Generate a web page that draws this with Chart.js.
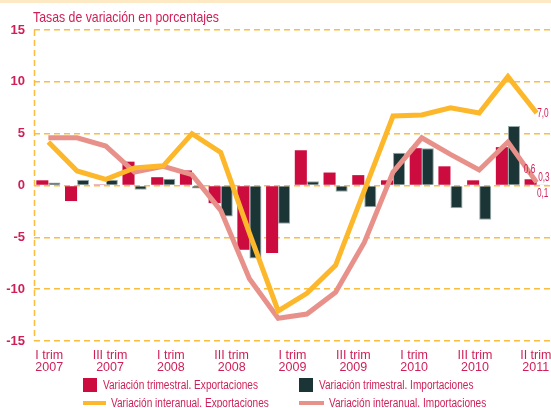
<!DOCTYPE html>
<html lang="es">
<head>
<meta charset="utf-8">
<title>Tasas de variación en porcentajes</title>
<script src="https://cdn.jsdelivr.net/npm/chart.js@4.4.1/dist/chart.umd.min.js"></script>
<style>
  html, body { margin: 0; padding: 0; background: #fff; }
  #wrap { position: relative; width: 551px; height: 408px; overflow: hidden; }
  #topband { position: absolute; left: 0; top: 0; width: 551px; height: 3px; background: #fde9c3; }
  #title {
    position: absolute; left: 33px; top: 8px; line-height: 17px;
    font: 15px 'Liberation Sans Narrow', 'Liberation Sans', sans-serif;
    color: #cf1f57; white-space: nowrap;
    transform: scaleX(0.82); transform-origin: left center;
  }
  #legend {
    position: absolute; left: 83px; top: 377px;
    display: grid; grid-template-columns: 216px auto; row-gap: 2px;
    font: 12px 'Liberation Sans Narrow', 'Liberation Sans', sans-serif;
    color: #cf1f57;
  }
  .item { display: flex; align-items: center; height: 16px; white-space: nowrap; }
  .item span.txt { display: inline-block; transform: scaleX(0.84); transform-origin: left center; }
  .box { width: 14px; height: 14px; margin-right: 6px; }
  .line { width: 25px; height: 4px; margin-right: 5px; }
</style>
</head>
<body>
<div id="wrap">
  <div id="topband"></div>
  <canvas id="chart" width="551" height="408"></canvas>
  <div id="title">Tasas de variación en porcentajes</div>
  <div id="legend"></div>
</div>
<script>
// quarters shown on the chart (one bar group / line point each)
const quarters = [
  'I trim 2007', 'II trim 2007', 'III trim 2007', 'IV trim 2007',
  'I trim 2008', 'II trim 2008', 'III trim 2008', 'IV trim 2008',
  'I trim 2009', 'II trim 2009', 'III trim 2009', 'IV trim 2009',
  'I trim 2010', 'II trim 2010', 'III trim 2010', 'IV trim 2010',
  'I trim 2011', 'II trim 2011'
];
// labels printed under the axis
const axisLabels = [
  'I trim 2007', 'III trim 2007', 'I trim 2008', 'III trim 2008', 'I trim 2009',
  'III trim 2009', 'I trim 2010', 'III trim 2010', 'II trim 2011'
];
const yTicks = [-15, -10, -5, 0, 5, 10, 15];

const trimExport = [0.5, -1.5, 0.1, 2.3, 0.8, 1.45, -1.7, -6.2, -6.5, 3.4, 1.25, 1.0, 0.5, 3.6, 1.85, 0.5, 3.7, 0.6];
const trimImport = [0.3, 0.55, 0.55, -0.4, 0.65, -0.3, -3.0, -7.05, -3.7, 0.4, -0.6, -2.1, 3.15, 3.6, -2.2, -3.3, 5.75, 0.1];
const anualExport = [4.2, 1.4, 0.6, 1.7, 1.9, 5.0, 3.2, -4.6, -12.1, -10.4, -7.7, -0.5, 6.7, 6.8, 7.5, 7.0, 10.5, 7.0];
const anualImport = [4.6, 4.6, 3.8, 1.3, 1.85, 1.05, -2.4, -9.0, -12.8, -12.4, -10.3, -5.5, 1.3, 4.6, 3.0, 1.5, 4.2, 0.3];

const RED = '#cc0c3f';
const DARK = '#1b3435';
const YELLOW = '#fdb72b';
const PINK = '#e8918a';
const TEXT = '#cf1f57';
const GRID = '#fbbd3f';
const NARROW = "'Liberation Sans Narrow', 'Liberation Sans', sans-serif";

// value labels at the end of each series (offsets in px from the mark)
const endLabels = [
  { ds: 0, dx: -1, dy: -10, align: 'center' }, // 0,6
  { ds: 1, dx: 0, dy: 9, align: 'center' },    // 0,1
  { ds: 2, dx: 0.5, dy: 1, align: 'left' },    // 7,0
  { ds: 3, dx: 1.5, dy: -4.5, align: 'left' }  // 0,3
];

const extras = {
  id: 'extras',
  beforeDatasetsDraw(chart) {
    const { ctx, chartArea } = chart;
    ctx.save();
    ctx.strokeStyle = GRID;
    ctx.lineWidth = 1.5;
    ctx.setLineDash([6, 4]);
    ctx.beginPath();
    ctx.moveTo(chartArea.left + 0.5, chartArea.top);
    ctx.lineTo(chartArea.left + 0.5, chartArea.bottom);
    ctx.stroke();
    ctx.restore();
  },
  afterDatasetsDraw(chart) {
    const { ctx } = chart;
    endLabels.forEach(l => {
      const data = chart.data.datasets[l.ds].data;
      const i = data.length - 1;
      const el = chart.getDatasetMeta(l.ds).data[i];
      ctx.save();
      ctx.fillStyle = TEXT;
      ctx.font = '12.5px ' + NARROW;
      ctx.textBaseline = 'middle';
      ctx.textAlign = l.align;
      ctx.translate(el.x + l.dx, el.y + l.dy);
      ctx.scale(0.66, 1);
      ctx.fillText(data[i].toFixed(1).replace('.', ','), 0, 0);
      ctx.restore();
    });
  }
};

const chart = new Chart(document.getElementById('chart'), {
  type: 'bar',
  data: {
    labels: quarters,
    datasets: [
      {
        label: 'Variación trimestral. Exportaciones',
        data: trimExport,
        backgroundColor: RED,
        borderWidth: 0,
        categoryPercentage: 0.84,
        barPercentage: 1.0,
        order: 2
      },
      {
        label: 'Variación trimestral. Importaciones',
        data: trimImport,
        backgroundColor: DARK,
        borderColor: '#96a9a9',
        borderWidth: 1,
        categoryPercentage: 0.84,
        barPercentage: 1.0,
        order: 2
      },
      {
        type: 'line',
        label: 'Variación interanual. Exportaciones',
        data: anualExport,
        borderColor: YELLOW,
        backgroundColor: YELLOW,
        borderWidth: 5,
        pointRadius: 0,
        tension: 0,
        order: 0
      },
      {
        type: 'line',
        label: 'Variación interanual. Importaciones',
        data: anualImport,
        borderColor: PINK,
        backgroundColor: PINK,
        borderWidth: 5,
        pointRadius: 0,
        tension: 0,
        order: 1
      }
    ]
  },
  options: {
    responsive: false,
    animation: false,
    devicePixelRatio: 1,
    layout: { padding: { top: 30, right: 0, bottom: 0, left: 0 } },
    plugins: {
      legend: { display: false },
      tooltip: { enabled: false }
    },
    scales: {
      x: {
        display: false,
        offset: true
      },
      x2: {
        type: 'linear',
        position: 'bottom',
        offset: false,
        min: -0.25,
        max: 8.25,
        grid: { display: false, drawTicks: false, offset: false },
        border: { display: false },
        afterBuildTicks: scale => { scale.ticks = axisLabels.map((_, i) => ({ value: i })); },
        afterFit: scale => {
          scale.height = 67;
          // keep the plot running to the right edge
          scale.paddingLeft = 0;
          scale.paddingRight = 0;
        },
        ticks: {
          autoSkip: false,
          maxRotation: 0,
          padding: 8,
          color: TEXT,
          font: { family: NARROW, size: 12.5, lineHeight: 1 },
          callback: v => axisLabels[v].split(/ (?=\d)/)
        }
      },
      y: {
        min: -15,
        max: 15,
        afterBuildTicks: scale => { scale.ticks = yTicks.map(v => ({ value: v })); },
        afterFit: scale => { scale.width = 34; },
        grid: { color: GRID, lineWidth: 1.5, drawTicks: false },
        border: { display: false, dash: [6, 4] },
        ticks: {
          padding: 9,
          color: TEXT,
          font: { family: "'Liberation Sans', Arial, sans-serif", size: 13, weight: 'bold' }
        }
      }
    }
  },
  plugins: [extras]
});

// legend: coloured squares for bars, short strokes for lines
const legend = document.getElementById('legend');
chart.data.datasets.forEach(ds => {
  const item = document.createElement('div');
  item.className = 'item';
  const mark = document.createElement('span');
  mark.className = ds.type === 'line' ? 'line' : 'box';
  mark.style.background = ds.type === 'line' ? ds.borderColor : ds.backgroundColor;
  const txt = document.createElement('span');
  txt.className = 'txt';
  txt.textContent = ds.label;
  item.appendChild(mark);
  item.appendChild(txt);
  legend.appendChild(item);
});
</script>
</body>
</html>
